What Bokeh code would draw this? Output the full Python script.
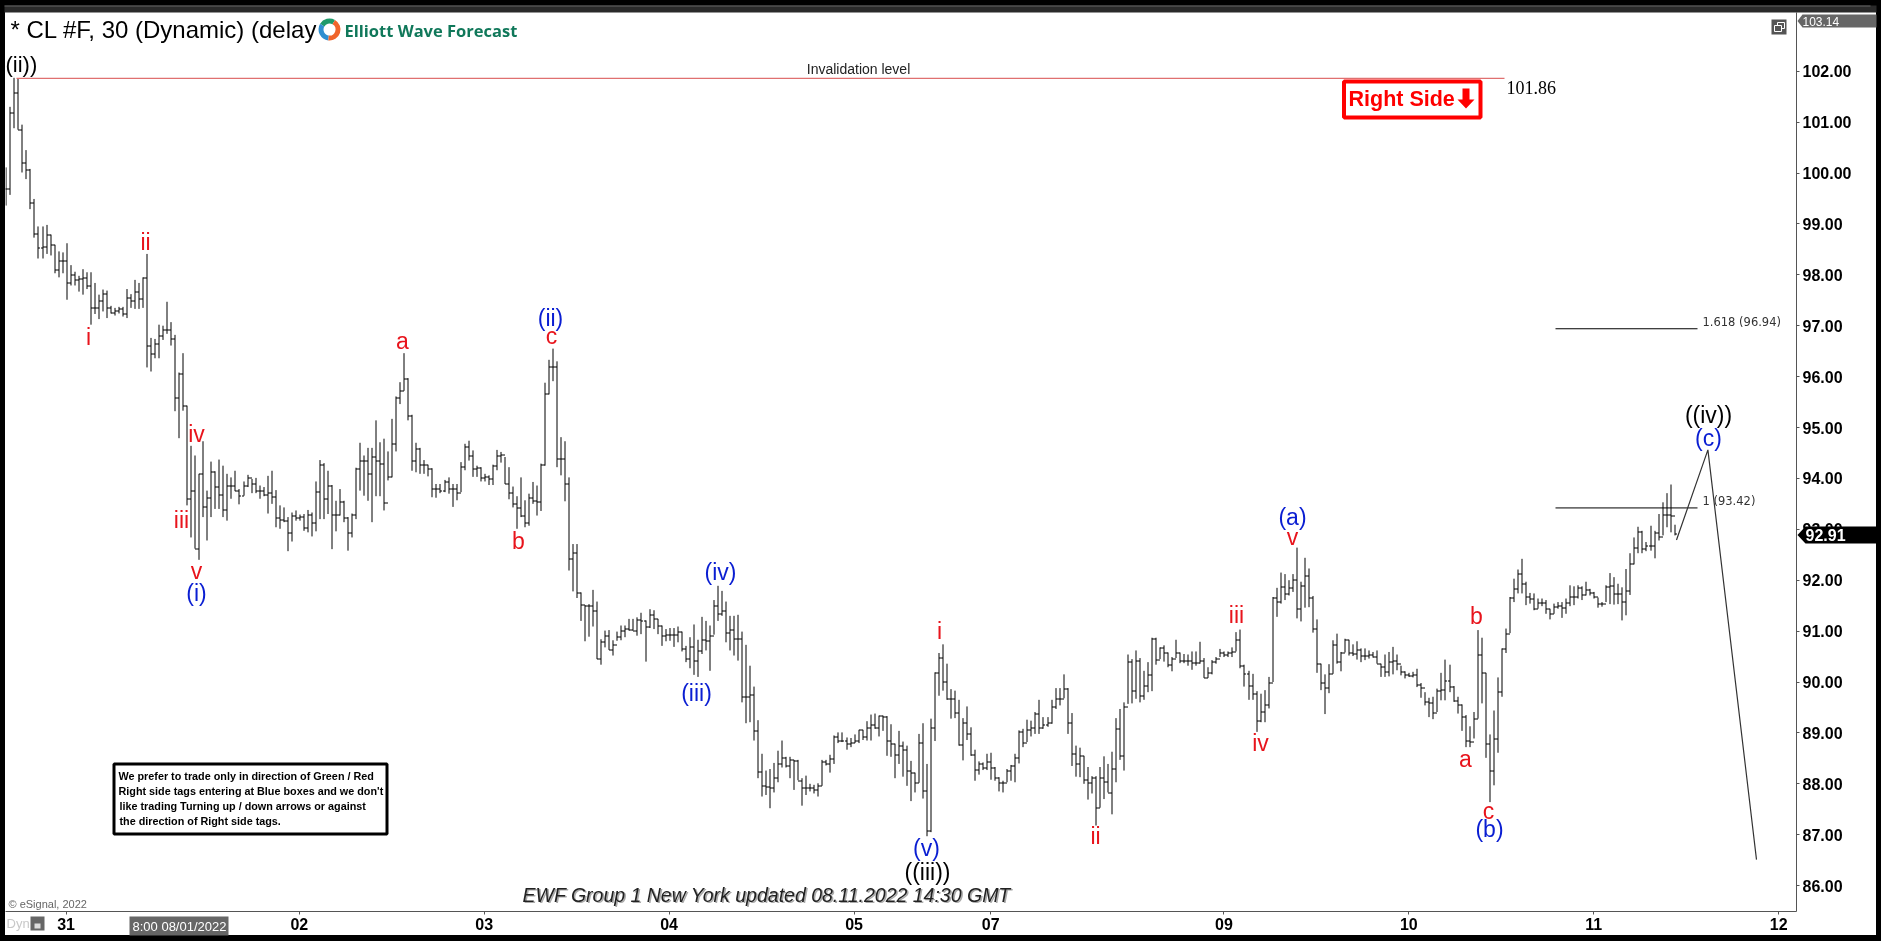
from bokeh.plotting import figure
from bokeh.embed import file_html
from bokeh.resources import INLINE
from bokeh.core.properties import value
from bokeh.models import FixedTicker, NumeralTickFormatter, Range1d

date_ticks = [15, 73, 119, 165, 211, 245, 303, 349, 395, 441]
date_labels = ["31", "02", "03", "04", "05", "07", "09", "10", "11", "12"]
price_ticks = list(range(86, 103))

highs = [
100.11,101.30,101.87,101.85,100.95,100.45,100.08,99.49,98.95,98.95,
98.98,98.79,98.59,98.46,98.44,98.62,98.19,98.06,97.98,98.11,
98.05,98.05,97.84,97.61,97.71,97.69,97.39,97.35,97.37,97.37,
97.72,97.62,97.90,97.84,97.95,98.41,96.76,96.74,97.02,97.00,
97.47,97.07,96.82,96.08,96.46,95.43,94.64,94.45,94.09,94.73,
93.76,94.33,94.14,94.37,94.25,94.09,94.02,94.15,93.79,93.94,
94.07,93.99,94.01,93.86,93.83,94.05,94.15,93.77,93.47,93.43,
93.24,93.33,93.37,93.29,93.30,93.38,93.33,93.94,94.36,94.30,
94.15,93.87,93.56,93.79,93.56,93.24,93.31,94.21,94.70,94.45,
94.60,94.60,95.14,94.71,94.78,94.53,95.17,95.61,95.89,96.46,
95.97,95.25,94.70,94.60,94.36,94.27,94.20,93.89,93.89,93.97,
94.02,93.89,93.89,94.32,94.68,94.74,94.55,94.25,94.22,94.09,
94.06,94.27,94.56,94.52,94.42,94.22,93.84,93.65,94.02,93.57,
93.70,93.93,93.86,94.29,95.88,96.33,96.55,96.30,94.81,94.73,
94.02,92.71,92.71,91.76,91.51,91.53,91.81,91.58,90.84,91.01,
91.02,90.82,90.99,91.11,91.11,91.24,91.24,91.27,91.36,91.21,
91.43,91.41,91.24,91.11,91.04,91.06,91.06,91.09,90.99,90.71,
90.88,91.13,90.83,91.28,91.20,91.11,91.61,91.89,91.79,91.58,
91.30,91.30,91.32,90.99,90.73,90.32,89.91,89.25,88.59,88.26,
88.29,88.41,88.65,88.85,88.53,88.53,88.47,88.47,88.11,88.16,
88.00,87.98,88.01,88.47,88.47,88.57,88.95,89.01,89.01,88.91,
88.90,88.97,89.06,89.06,89.23,89.36,89.38,89.34,89.34,89.33,
89.17,88.79,89.04,88.83,88.75,88.45,88.22,88.98,89.19,88.39,
89.28,90.19,90.57,90.74,90.36,89.86,89.83,89.65,89.29,89.52,
89.11,88.67,88.44,88.42,88.59,88.61,88.33,88.13,88.06,88.29,
88.37,88.59,89.05,89.08,89.26,89.24,89.41,89.65,89.31,89.31,
89.65,89.88,89.88,90.15,89.88,89.39,88.75,88.71,88.55,88.33,
88.15,88.15,88.33,88.54,88.39,88.63,89.29,89.47,89.60,90.54,
90.45,90.62,90.47,90.22,90.39,90.87,90.87,90.68,90.72,90.58,
90.49,90.83,90.58,90.55,90.54,90.60,90.60,90.79,90.47,90.29,
90.43,90.49,90.65,90.60,90.60,90.68,90.98,91.03,90.34,90.22,
90.16,89.82,89.77,89.84,90.10,91.67,91.85,92.15,92.12,92.00,
92.12,92.64,91.97,92.44,92.23,91.69,91.23,90.36,90.15,90.35,
90.82,90.95,90.59,90.85,90.83,90.74,90.80,90.66,90.66,90.62,
90.59,90.62,90.36,90.54,90.59,90.69,90.54,90.32,90.21,90.18,
90.20,90.26,89.98,89.80,89.69,89.71,89.87,90.18,90.44,90.34,
89.92,89.71,89.56,89.35,89.13,89.41,91.02,90.87,90.18,88.97,
89.44,90.09,90.66,91.05,91.67,92.03,92.21,92.42,91.97,91.75,
91.74,91.64,91.64,91.61,91.44,91.54,91.57,91.57,91.64,91.90,
91.88,91.90,91.88,91.97,91.83,91.77,91.66,91.57,91.90,92.14,
92.06,91.93,91.86,92.22,92.53,92.84,93.05,92.97,92.75,93.07,
92.97,93.30,93.53,93.71,93.88,93.09]

lows = [
99.36,99.57,100.88,100.85,100.01,99.88,99.29,98.73,98.32,98.32,
98.41,98.38,98.03,97.95,98.03,97.51,97.79,97.79,97.67,97.61,
97.72,97.02,97.23,97.13,97.28,97.15,97.24,97.20,97.24,97.18,
97.15,97.35,97.33,97.33,97.35,96.18,96.10,96.36,96.36,96.72,
96.84,96.61,95.32,94.79,95.33,93.47,92.84,92.62,92.40,93.24,
92.78,93.24,93.40,93.40,93.24,93.17,93.60,93.75,93.49,93.66,
93.83,93.71,93.71,93.60,93.65,93.31,93.50,93.04,93.01,93.14,
92.57,92.76,93.17,93.17,92.97,92.94,92.86,92.96,93.20,93.20,
93.30,92.61,92.96,93.27,93.14,92.58,92.84,93.20,93.76,93.66,
93.56,93.14,93.65,93.65,93.37,93.96,94.02,94.53,95.46,95.72,
95.14,94.15,94.12,94.09,94.09,94.04,93.63,93.62,93.71,93.73,
93.70,93.44,93.57,93.73,94.16,94.35,94.03,94.03,93.94,93.94,
93.87,93.87,94.16,94.31,93.89,93.59,93.43,93.01,93.24,93.04,
93.07,93.50,93.27,93.36,94.25,95.65,95.91,94.22,94.06,93.55,
92.19,91.78,91.65,91.20,90.80,90.89,91.09,90.45,90.34,90.68,
90.63,90.52,90.81,90.82,90.88,91.01,91.01,90.91,90.94,90.40,
91.06,91.04,90.94,90.71,90.80,90.81,90.69,90.78,90.60,90.39,
90.27,90.14,90.10,90.55,90.62,90.22,90.93,91.20,91.30,90.78,
90.62,90.52,90.42,89.60,89.19,89.21,88.85,88.11,87.75,87.78,
87.52,87.83,88.03,88.32,88.32,88.11,87.88,88.07,87.57,87.78,
87.85,87.81,87.75,87.96,88.36,88.22,88.39,88.80,88.82,88.67,
88.72,88.80,88.80,88.86,88.85,88.85,89.08,88.93,89.04,88.55,
88.53,88.11,88.39,88.14,87.96,87.66,87.83,88.02,87.71,86.97,
87.05,88.84,89.73,89.83,89.65,89.28,89.29,88.75,88.46,88.86,
88.55,88.06,88.18,88.27,88.27,88.08,88.06,87.85,87.83,88.03,
88.06,88.03,88.40,88.72,88.82,88.93,88.98,88.98,89.08,89.12,
89.18,89.47,89.54,89.68,88.98,88.35,88.14,88.13,88.00,87.69,
87.81,87.18,87.53,87.70,87.83,87.40,88.03,88.47,88.26,89.57,
89.58,89.67,89.60,89.65,89.80,89.82,90.34,90.45,90.40,90.29,
90.21,90.47,90.37,90.37,90.32,90.24,90.32,90.36,90.08,90.08,
90.15,90.36,90.49,90.49,90.49,90.49,90.60,90.27,89.91,89.65,
89.65,89.02,89.21,89.21,89.48,90.00,91.28,91.54,91.61,91.70,
91.77,91.25,91.19,91.46,91.47,90.97,90.18,89.84,89.37,89.78,
90.16,90.36,90.21,90.58,90.52,90.51,90.44,90.39,90.43,90.46,
90.48,90.36,90.10,90.10,90.11,90.15,90.23,90.13,90.07,90.10,
90.09,89.90,89.69,89.54,89.31,89.27,89.41,89.64,89.64,89.80,
89.61,89.38,89.04,88.72,88.72,88.89,89.28,89.58,88.51,87.64,
87.97,88.61,89.71,90.57,90.96,91.57,91.74,91.74,91.51,91.54,
91.41,91.44,91.49,91.34,91.23,91.34,91.44,91.26,91.34,91.49,
91.51,91.64,91.61,91.70,91.70,91.64,91.46,91.48,91.57,91.53,
91.52,91.53,91.21,91.31,91.71,92.31,92.53,92.53,92.57,92.58,
92.43,92.78,92.88,93.04,92.94,92.88]

closes = [
99.69,101.18,101.58,100.85,100.20,100.07,99.42,98.81,98.54,98.56,
98.79,98.59,98.11,98.28,98.29,97.85,98.00,97.90,97.92,97.94,
97.79,97.35,97.35,97.50,97.64,97.36,97.26,97.29,97.33,97.23,
97.56,97.49,97.67,97.54,97.94,96.62,96.46,96.65,96.80,96.93,
96.93,96.74,95.59,96.07,95.43,93.60,93.77,92.63,94.09,93.45,
93.62,94.14,93.85,93.68,93.38,93.86,93.87,93.77,93.66,93.86,
94.02,93.89,93.76,93.76,93.69,93.73,93.64,93.24,93.20,93.17,
92.93,93.27,93.24,93.25,93.04,93.30,93.14,93.75,94.28,93.60,
93.87,93.29,93.29,93.54,93.24,92.93,93.29,94.20,94.35,94.36,
94.09,94.43,94.35,94.30,93.53,94.04,94.68,95.59,95.72,95.97,
95.23,94.36,94.59,94.27,94.27,94.19,93.80,93.80,93.76,93.94,
93.81,93.80,93.73,94.24,94.63,94.45,94.19,94.22,94.02,94.04,
93.99,94.25,94.45,94.47,93.89,93.73,93.50,93.43,93.27,93.14,
93.62,93.57,93.55,94.27,95.66,96.20,96.20,94.40,94.40,93.90,
92.42,92.54,91.76,91.52,91.50,91.50,91.40,90.47,90.80,90.91,
90.63,90.73,90.89,91.01,91.06,91.04,91.02,91.22,91.21,91.09,
91.32,91.24,91.11,90.91,90.93,90.94,90.93,90.99,90.65,90.47,
90.69,90.43,90.62,90.84,90.82,90.91,91.50,91.34,91.41,90.98,
91.03,90.86,90.86,89.72,89.72,89.75,89.04,88.25,87.96,87.94,
87.92,88.13,88.39,88.52,88.36,88.47,88.45,88.07,87.93,87.93,
87.92,87.88,87.96,88.44,88.39,88.49,88.93,88.85,88.85,88.79,
88.81,88.85,89.06,88.93,89.11,89.17,89.11,89.34,89.33,88.86,
88.79,88.57,88.75,88.68,88.26,88.22,88.02,88.81,87.87,87.09,
89.11,90.19,90.49,90.01,89.67,89.67,89.41,88.77,89.21,88.98,
88.57,88.28,88.39,88.33,88.44,88.33,88.13,88.03,88.03,88.26,
88.35,88.51,89.03,88.82,89.06,89.10,89.39,89.10,89.16,89.20,
89.52,89.67,89.68,89.88,89.21,88.60,88.39,88.55,88.08,88.03,
88.13,87.53,88.13,88.04,87.83,88.31,89.09,88.55,89.52,90.40,
89.84,90.42,89.73,89.94,90.15,90.85,90.45,90.68,90.57,90.34,
90.47,90.57,90.42,90.42,90.42,90.39,90.39,90.42,90.09,90.19,
90.41,90.47,90.58,90.55,90.57,90.60,90.83,90.32,90.16,89.93,
89.77,89.24,89.43,89.56,90.00,91.66,91.59,91.88,91.74,91.85,
92.01,91.44,91.90,92.10,91.66,91.05,90.36,90.00,89.90,90.16,
90.74,90.41,90.58,90.83,90.57,90.56,90.64,90.52,90.52,90.54,
90.51,90.36,90.30,90.20,90.41,90.43,90.36,90.20,90.15,90.13,
90.15,89.95,89.90,89.61,89.59,89.41,89.84,89.85,90.03,89.92,
89.64,89.56,89.33,88.86,88.84,89.28,90.54,90.18,88.79,88.27,
88.89,89.82,90.66,90.96,91.66,91.83,92.13,91.93,91.67,91.64,
91.44,91.57,91.57,91.44,91.34,91.49,91.51,91.46,91.57,91.67,
91.68,91.85,91.72,91.81,91.75,91.67,91.54,91.55,91.88,91.90,
91.74,91.73,91.58,91.80,92.32,92.65,92.96,92.62,92.68,92.68,
92.93,92.86,93.30,93.29,93.28,92.91]

invalidation_price = 101.86
fib_prices = [96.94, 93.42]
fib_texts = ["1.618 (96.94)", "1 (93.42)"]
projection_price = [92.79, 94.56, 86.51]

n = len(highs)
assert len(lows) == n and len(closes) == n, (len(highs), len(lows), len(closes))
opens = [closes[0]] + closes[:-1]

# reference-pixel helpers (figure sits at page 5,12)
def xp(px): return (px - 5.33) / 4.02
def yp(py): return 102 - (py - 70.7) / 50.9
def py_of(v): return 70.7 + (102 - v) * 50.9

# bars and their ticks snapped to whole device pixels, like the bitmap chart
bar_px = [round(5.33 + 4.02 * i) + 0.5 for i in range(n)]
bar_x = [xp(v) for v in bar_px]
bar_xl = [xp(v - 2) for v in bar_px]
bar_xr = [xp(v + 2) for v in bar_px]
snap_open = [yp(round(py_of(v)) + 0.5) for v in opens]
snap_close = [yp(round(py_of(v)) + 0.5) for v in closes]

p = figure(width=1871, height=923,
           x_range=Range1d(xp(5), xp(1796)), y_range=Range1d(yp(911), yp(12)),
           y_axis_location="right", toolbar_location=None, output_backend="svg",
           min_border_left=0, min_border_top=0, min_border_right=80, min_border_bottom=24,
           outline_line_color=None, background_fill_color="white", border_fill_color="white",
           styles={"position": "fixed", "left": "5px", "top": "12px",
                   "box-shadow": "0 0 0 14px #000"})
p.grid.visible = False

AX = "#555555"
FONT = "Liberation Sans"
p.xaxis.ticker = FixedTicker(ticks=date_ticks)
p.xaxis.major_label_overrides = dict(zip(date_ticks, date_labels))
p.yaxis.ticker = FixedTicker(ticks=price_ticks)
p.yaxis.formatter = NumeralTickFormatter(format="0.00")
for ax in (p.xaxis, p.yaxis):
    ax.axis_line_color = AX
    ax.major_tick_line_color = AX
    ax.minor_tick_line_color = None
    ax.major_tick_out = 3
    ax.major_tick_in = 0
    ax.major_label_text_font = FONT
    ax.major_label_text_font_size = "16px"
    ax.major_label_text_font_style = "bold"
    ax.major_label_text_color = "#000000"
p.xaxis.major_label_standoff = 3
p.yaxis.major_label_standoff = 3

# OHLC bars
p.segment(bar_x, lows, bar_x, highs, line_color="#000000", line_width=1)
p.segment(bar_xl, snap_open, bar_x, snap_open, line_color="#000000", line_width=1)
p.segment(bar_x, snap_close, bar_xr, snap_close, line_color="#000000", line_width=1)

# invalidation + fib + projection
p.line([xp(16), xp(1504)], [invalidation_price] * 2, line_color="#e07070", line_width=1.3)
for f in fib_prices:
    p.line([xp(1555), xp(1697)], [f, f], line_color="#000000", line_width=1)
p.line([xp(1676), xp(1707.4), xp(1756)], projection_price, line_color="#333333", line_width=1.2)

def t(px, py, text, color="#000000", size=21, font=FONT, style="normal", align="center"):
    p.text([xp(px)], [yp(py)], text=[text], text_color=color, text_font=value(font),
           text_font_size=f"{size}px", text_font_style=style, text_align=align,
           text_baseline="middle")

RED, BLUE = "#e8141c", "#0a1ed2"
red_labels = [("i",88,338),("ii",145,243),("iii",181,521),("iv",196,435),("v",196,572),
              ("a",402,342),("b",518,542),("c",551,337),("i",939,632),("ii",1095,837),
              ("iii",1236,616),("iv",1260,744),("v",1292,538),("a",1465,760),("b",1476,617),("c",1488,812)]
blue_labels = [("(i)",196,594),("(ii)",550,319),("(iv)",720,573),("(iii)",696,694),("(v)",926,849),
               ("(a)",1292,518),("(b)",1489,830),("(c)",1708,439)]
black_labels = [("((iii))",927,873),("((iv))",1708,416)]
for s, x, y in red_labels: t(x, y - 1.5, s, RED, 23)
for s, x, y in blue_labels: t(x, y - 1.5, s, BLUE, 23)
for s, x, y in black_labels: t(x, y - 1.5, s, "#000000", 23)
t(5, 64, "(ii))", "#000000", 22, align="left")

# title and logo
t(10, 29, "* CL #F, 30 (Dynamic) (delay", "#000000", 24, align="left")
p.quad(left=[xp(316)], right=[xp(520)], top=[yp(14)], bottom=[yp(44)], fill_color="white", line_color=None)
logo = [(1.05, 2.6, "#1f9a6a"), (2.6, 4.6, "#2f8fd0"), (4.6, 7.33, "#f0642a")]
for a0, a1, c in logo:
    p.annular_wedge([xp(329)], [yp(29)], inner_radius=6, outer_radius=11,
                    inner_radius_units="screen", outer_radius_units="screen",
                    start_angle=a0, end_angle=a1, fill_color=c, line_color=None)
t(344, 30, "Elliott Wave Forecast", "#10785a", 16.5, "Open Sans", "bold", "left")

# invalidation texts and tag
t(858, 68, "Invalidation level", "#222222", 14)
t(1506, 87, "101.86", "#000000", 18, "Liberation Serif", align="left")
p.quad(left=[xp(1343.5)], right=[xp(1480)], top=[yp(81)], bottom=[yp(117)],
       fill_color="white", line_color="#ff0000", line_width=4)
t(1348, 98, "Right Side", "#ff0000", 21.5, FONT, "bold", "left")
arrow_x = [1462, 1469, 1469, 1474, 1465.5, 1457, 1462]
arrow_y = [88, 88, 99, 99, 108, 99, 99]
p.patch([xp(v) for v in arrow_x], [yp(v) for v in arrow_y], fill_color="#ff0000", line_color=None)

# fib labels
for f, s in zip(fib_prices, fib_texts):
    t(1702, py_of(f) - 7, s, "#333333", 11.5, "DejaVu Sans", align="left")

# notice
p.quad(left=[xp(113.5)], right=[xp(386.5)], top=[yp(763.5)], bottom=[yp(833.5)],
       fill_color="white", line_color="#000000", line_width=3)
notice = ["We prefer to trade only in direction of Green / Red",
          "Right side tags entering at Blue boxes and we don't",
          "like trading Turning up / down arrows or against",
          "the direction of Right side tags."]
for s, y, x in zip(notice, (775, 790, 805, 820), (118, 118, 119, 119)):
    t(x, y, s, "#000000", 10.8, FONT, "bold", "left")

# footer texts
foot = "EWF Group 1 New York updated 08.11.2022 14:30 GMT"
t(523.5, 895.5, foot, "#aaaaaa", 19.5, style="italic", align="left")
t(522, 894, foot, "#222222", 19.5, style="italic", align="left")
t(8, 903, "\u00a9 eSignal, 2022", "#666666", 11, align="left")

# window icon
p.quad(left=[xp(1771)], right=[xp(1786)], top=[yp(19)], bottom=[yp(34)], fill_color="#555555", line_color=None)
p.quad(left=[xp(1777)], right=[xp(1784)], top=[yp(22)], bottom=[yp(28)], fill_color=None, line_color="white", line_width=1)
p.quad(left=[xp(1774)], right=[xp(1781)], top=[yp(25)], bottom=[yp(31)], fill_color="#555555", line_color="white", line_width=1)

# transparent layer over the side panels, in page pixels, for the price/date flags
q = figure(width=1881, height=941, x_range=Range1d(0, 1881), y_range=Range1d(941, 0),
           x_axis_type=None, y_axis_type=None, toolbar_location=None, output_backend="svg",
           min_border=0, outline_line_color=None,
           background_fill_color=None, border_fill_color=None,
           styles={"position": "fixed", "left": "0px", "top": "0px", "z-index": "5",
                   "pointer-events": "none"})
q.grid.visible = False

def ql(px, py, text, color, size, style="normal"):
    q.text([px], [py], text=[text], text_color=color, text_font=value(FONT),
           text_font_size=f"{size}px", text_font_style=style, text_baseline="middle")
def qp(xs, ys, color):
    q.patch(xs, ys, fill_color=color, line_color=None)

qp([4, 1876, 1876, 4], [5, 5, 12, 12], "#2a2a2a")
q.line([4, 1870], [5.5, 5.5], line_color="#666666", line_width=1)
qp([1797, 1802, 1876, 1876, 1802], [20.5, 14, 14, 27, 27], "#666666")
qp([1797, 1805, 1876, 1876, 1805], [534.5, 526, 526, 543, 543], "#000000")
qp([129, 228, 228, 129], [916, 916, 935, 935], "#666666")
qp([30, 44, 44, 30], [916, 916, 930, 930], "#666666")
qp([34, 40, 40, 34], [923, 923, 928, 928], "#dddddd")
ql(1802, 21, "103.14", "#ffffff", 12)
ql(1805, 534, "92.91", "#ffffff", 16, "bold")
ql(132, 926, "8:00 08/01/2022", "#ffffff", 13)
ql(6, 923, "Dyn", "#c8c8c8", 13)

open("out.html", "w").write(file_html([p, q], INLINE))
